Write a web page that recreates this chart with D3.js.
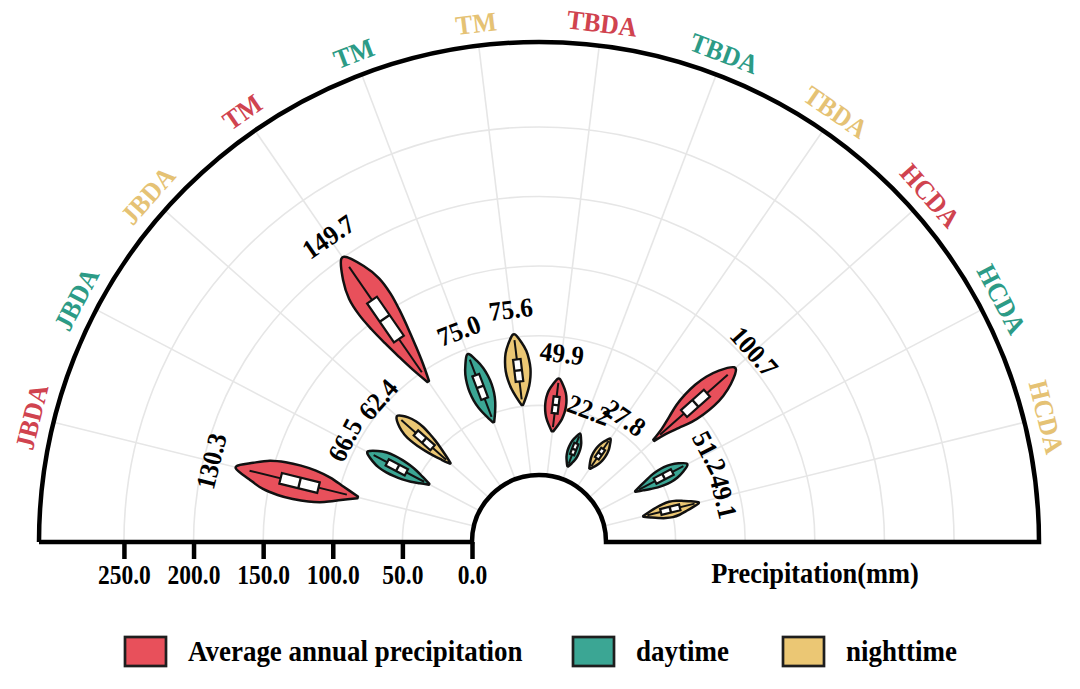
<!DOCTYPE html>
<html>
<head>
<meta charset="utf-8">
<script src="https://cdn.jsdelivr.net/npm/d3@7"></script>
<style>
  body { margin: 0; background: #fff; }
  text { font-family: "Liberation Serif", "Times New Roman", serif; font-weight: bold; }
</style>
</head>
<body>
<div id="chart"></div>
<script>
// categories around the half circle
var groups = ["JBDA", "JBDA", "JBDA", "TM", "TM", "TM", "TBDA", "TBDA", "TBDA", "HCDA", "HCDA", "HCDA"];
var periods = ["annual", "day", "night", "annual", "day", "night", "annual", "day", "night", "annual", "day", "night"];
var seriesNames = ["Average annual precipitation", "daytime", "nighttime"];

// value printed over each violin (mm)
var labels = [130.3, 66.5, 62.4, 149.7, 75.0, 75.6, 49.9, 22.2, 27.8, 100.7, 51.2, 49.1];
// violin extent and box statistics (mm)
var vMin = [86, 41, 37, 92, 44, 51, 32, 10, 16, 62, 30, 29];
var vMax = [176, 91, 88, 200, 96, 102, 70, 35, 42, 140, 72, 70];
var whiskLo = [94, 45, 41, 100, 48, 55, 35, 12, 18, 68, 33, 32];
var whiskHi = [166, 86, 84, 192, 92, 98, 67, 33, 40, 133, 69, 67];
var q1 = [115, 59.5, 54, 129, 62, 68, 45, 19, 25, 91, 46, 42];
var med = [129, 66.5, 62, 147, 71, 76, 51, 23, 29, 102, 53, 49];
var q3 = [143, 75, 70, 163, 80, 84, 57, 27.5, 33, 113, 60, 56];
// relative density, evenly spaced from vMin to vMax
var density = [
    [0.05, 0.38, 0.71, 0.90, 0.97, 0.95, 0.82, 0.48, 0.06],
    [0.04, 0.30, 0.54, 0.70, 0.79, 0.81, 0.74, 0.50, 0.06],
    [0.04, 0.27, 0.48, 0.65, 0.77, 0.84, 0.80, 0.59, 0.08],
    [0.05, 0.31, 0.52, 0.71, 0.87, 0.97, 0.93, 0.64, 0.08],
    [0.06, 0.43, 0.73, 0.91, 0.98, 0.94, 0.80, 0.51, 0.08],
    [0.06, 0.42, 0.72, 0.91, 1.00, 0.97, 0.84, 0.54, 0.08],
    [0.08, 0.48, 0.80, 0.98, 1.05, 1.02, 0.87, 0.55, 0.08],
    [0.06, 0.38, 0.64, 0.77, 0.81, 0.77, 0.64, 0.38, 0.06],
    [0.06, 0.37, 0.62, 0.75, 0.79, 0.75, 0.62, 0.37, 0.06],
    [0.05, 0.22, 0.49, 0.76, 0.90, 0.94, 0.85, 0.60, 0.09],
    [0.04, 0.26, 0.48, 0.68, 0.79, 0.81, 0.72, 0.48, 0.08],
    [0.04, 0.30, 0.54, 0.73, 0.81, 0.74, 0.54, 0.32, 0.05]
];
var axisTicks = [0, 50, 100, 150, 200, 250];

var width = 1080, height = 689;
var cx = 539, cy = 542;
var r0 = 67, R = 500;

var fillColor = d3.scaleOrdinal().domain(["annual", "day", "night"]).range(["#e8505b", "#3ba694", "#ebc774"]);
var textColor = d3.scaleOrdinal().domain(["annual", "day", "night"]).range(["#d0434f", "#2c9b86", "#e5c274"]);

var keys = groups.map(function (g, i) { return i; });
var angle = d3.scalePoint().domain(keys).range([-Math.PI / 2, Math.PI / 2]).padding(1);
var rad = d3.scaleLinear().domain([0, 311]).range([r0, R]);

var svg = d3.select("#chart").append("svg")
    .attr("width", width)
    .attr("height", height);

var g = svg.append("g").attr("transform", "translate(" + cx + "," + cy + ")");

function polar(a, r) {
    return [r * Math.sin(a), -r * Math.cos(a)];
}

// grid rings
g.selectAll(".ring")
    .data(axisTicks.slice(1))
    .enter().append("path")
    .attr("class", "ring")
    .attr("d", function (d) {
        var p = d3.path();
        var r = rad(d);
        p.moveTo(-r, 0);
        p.arc(0, 0, r, Math.PI, 2 * Math.PI);
        return p.toString();
    })
    .attr("fill", "none")
    .attr("stroke", "#e6e6e6")
    .attr("stroke-width", 1.6);

// grid spokes
g.selectAll(".spoke")
    .data(keys)
    .enter().append("line")
    .attr("class", "spoke")
    .attr("x1", function (d) { return polar(angle(d), r0)[0]; })
    .attr("y1", function (d) { return polar(angle(d), r0)[1]; })
    .attr("x2", function (d) { return polar(angle(d), R)[0]; })
    .attr("y2", function (d) { return polar(angle(d), R)[1]; })
    .attr("stroke", "#e6e6e6")
    .attr("stroke-width", 1.6);

// frame
var frame = d3.path();
frame.moveTo(-R, 0);
frame.arc(0, 0, R, Math.PI, 2 * Math.PI);
frame.lineTo(r0, 0);
frame.arc(0, 0, r0, 0, Math.PI, true);
frame.lineTo(-R, 0);
g.append("path")
    .attr("d", frame.toString())
    .attr("fill", "none")
    .attr("stroke", "#000")
    .attr("stroke-width", 4.5);

// axis on the left half of the baseline
var xs = d3.scaleLinear().domain([0, 311]).range([cx - r0, cx - R]);
var axis = svg.append("g")
    .attr("transform", "translate(0," + cy + ")")
    .call(d3.axisBottom(xs).tickValues(axisTicks).tickFormat(d3.format(".1f")).tickSize(17));
axis.select(".domain").remove();
axis.selectAll(".tick line").attr("stroke", "#000").attr("stroke-width", 4.5);
axis.selectAll(".tick text")
    .attr("y", 32)
    .attr("dy", "0.35em")
    .attr("transform", "scale(0.84,1)")
    .attr("fill", "#000")
    .style("font-size", "28px")
    .style("font-family", "'Liberation Serif', 'Times New Roman', serif")
    .style("font-weight", "bold");

svg.append("text")
    .attr("transform", "translate(815,573) scale(0.91,1)")
    .attr("text-anchor", "middle")
    .attr("dominant-baseline", "central")
    .style("font-size", "29px")
    .text("Precipitation(mm)");

// violins
var H = 0.072;     // half width per unit density, as a share of the radius
var boxH = 0.022;  // half width of the box, as a share of the radius

var outline = d3.line()
    .x(function (d) { return d[0]; })
    .y(function (d) { return d[1]; })
    .curve(d3.curveCatmullRom);

// point at value v along violin i, pushed sideways by w pixels
function along(i, v, w) {
    var a = angle(i);
    var r = rad(v);
    return [r * Math.sin(a) + w * Math.cos(a), -r * Math.cos(a) + w * Math.sin(a)];
}

var vg = g.selectAll(".violin")
    .data(keys)
    .enter().append("g")
    .attr("class", "violin");

vg.append("path")
    .attr("d", function (i) {
        var dens = density[i];
        var n = dens.length;
        var scale = H * rad(med[i]);
        var pts = [];
        var j, v;
        for (j = 0; j < n; j++) {
            v = vMin[i] + (vMax[i] - vMin[i]) * j / (n - 1);
            pts.push(along(i, v, dens[j] * scale));
        }
        for (j = n - 1; j >= 0; j--) {
            v = vMin[i] + (vMax[i] - vMin[i]) * j / (n - 1);
            pts.push(along(i, v, -dens[j] * scale));
        }
        return outline(pts) + "Z";
    })
    .attr("fill", function (i) { return fillColor(periods[i]); })
    .attr("stroke", "#111")
    .attr("stroke-width", 2.5)
    .attr("stroke-linejoin", "round");

// whisker line
vg.append("line")
    .each(function (i) {
        var p1 = along(i, whiskLo[i], 0), p2 = along(i, whiskHi[i], 0);
        d3.select(this).attr("x1", p1[0]).attr("y1", p1[1]).attr("x2", p2[0]).attr("y2", p2[1]);
    })
    .attr("stroke", "#111")
    .attr("stroke-width", 2);

// box
vg.append("path")
    .attr("d", function (i) {
        var w = boxH * rad(med[i]);
        var pts = [along(i, q1[i], -w), along(i, q1[i], w), along(i, q3[i], w), along(i, q3[i], -w)];
        return "M" + pts.join("L") + "Z";
    })
    .attr("fill", "#fff")
    .attr("stroke", "#111")
    .attr("stroke-width", 2.2);

// median
vg.append("line")
    .each(function (i) {
        var w = boxH * rad(med[i]);
        var p1 = along(i, med[i], -w), p2 = along(i, med[i], w);
        d3.select(this).attr("x1", p1[0]).attr("y1", p1[1]).attr("x2", p2[0]).attr("y2", p2[1]);
    })
    .attr("stroke", "#111")
    .attr("stroke-width", 2.4);

// value labels
g.selectAll(".vlabel")
    .data(keys)
    .enter().append("text")
    .attr("class", "vlabel")
    .attr("transform", function (i) {
        var a = angle(i);
        var p = polar(a, rad(vMax[i] + 18));
        return "translate(" + p[0] + "," + p[1] + ") rotate(" + (a * 180 / Math.PI) + ") scale(0.93,1)";
    })
    .attr("text-anchor", "middle")
    .attr("dominant-baseline", "central")
    .style("font-size", "27px")
    .attr("fill", "#000")
    .text(function (i) { return d3.format(".1f")(labels[i]); });

// category labels
g.selectAll(".clabel")
    .data(keys)
    .enter().append("text")
    .attr("class", "clabel")
    .attr("transform", function (i) {
        var a = angle(i);
        var p = polar(a, R + 22);
        return "translate(" + p[0] + "," + p[1] + ") rotate(" + (a * 180 / Math.PI) + ") scale(0.94,1)";
    })
    .attr("text-anchor", "middle")
    .attr("dominant-baseline", "central")
    .style("font-size", "27px")
    .attr("fill", function (i) { return textColor(periods[i]); })
    .text(function (i) { return groups[i]; });

// legend
var legendX = [125, 573, 783];
var lg = svg.selectAll(".legend")
    .data(seriesNames)
    .enter().append("g")
    .attr("class", "legend")
    .attr("transform", function (d, i) { return "translate(" + legendX[i] + ",637)"; });
lg.append("rect")
    .attr("width", 41)
    .attr("height", 29)
    .attr("fill", function (d, i) { return fillColor.range()[i]; })
    .attr("stroke", "#1e1e1e")
    .attr("stroke-width", 2.7);
lg.append("text")
    .attr("transform", "translate(63,14) scale(0.93,1)")
    .attr("dominant-baseline", "central")
    .style("font-size", "29px")
    .attr("fill", "#000")
    .text(function (d) { return d; });
</script>
</body>
</html>
